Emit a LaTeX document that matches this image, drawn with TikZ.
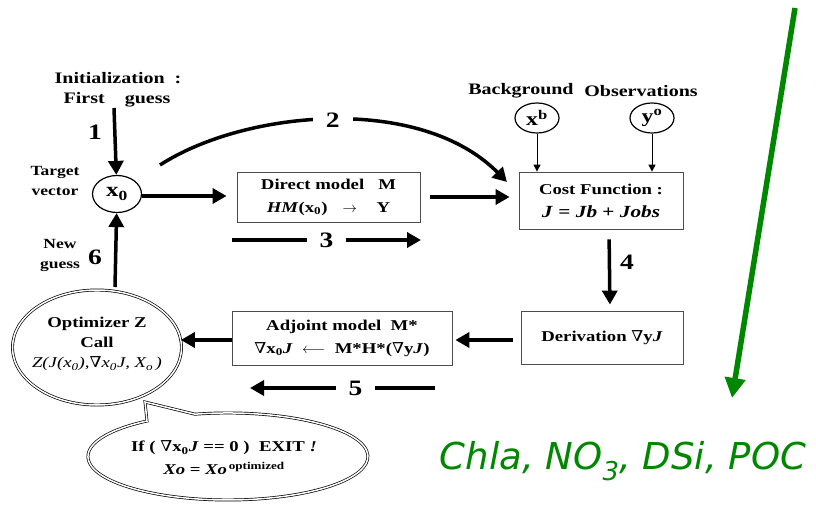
\documentclass[tikz,border=0pt]{standalone}
\usepackage{fontspec}
\setmainfont{Liberation Serif}[FakeStretch=1.25]
\newfontfamily\nabfont{DejaVu Serif}[FakeStretch=1.15]
\newfontfamily\chemfont{DejaVu Sans}
\usetikzlibrary{arrows.meta,shapes.geometric,calc}

\definecolor{chemgreen}{RGB}{0,135,0}
\newcommand{\nab}{{\nabfont\mdseries ∇}}

\tikzset{
  big/.style={line width=3.5pt, -{Triangle[length=14pt,width=15pt]}},
  thinarrow/.style={line width=1pt, -{Triangle[length=7pt,width=7pt]}},
  box/.style={draw=black!70, line width=0.8pt, align=center,
    font=\bfseries\fontsize{15}{23}\selectfont},
  ell/.style={ellipse, draw, line width=1.2pt, inner sep=0pt},
  lbl/.style={font=\bfseries\fontsize{16}{18}\selectfont, align=center},
  side/.style={font=\bfseries\fontsize{14}{20}\selectfont, align=center},
  num/.style={font=\bfseries\fontsize{22}{24}\selectfont},
  gap/.style={num, fill=white, inner xsep=13pt},
}

\begin{document}
\begin{tikzpicture}[x=1pt,y=-1pt]
\useasboundingbox (0,0) rectangle (816,505);

% Initial guess and target vector
\node[lbl] (init) at (118,78) {Initialization\ \ :};
\node[lbl] (first) at (117,100) {First\hspace{20pt}guess};
\node[ell, minimum width=49pt, minimum height=37pt,
  font=\bfseries\fontsize{20}{22}\selectfont] (x0) at (117,194) {x\textsubscript{0}};
\node[side] (target) at (55,181) {Target\\vector};
\node[side] (newg) at (60,255) {New\\guess};
\node[num] (n1) at (95,132) {1};
\node[num] (n6) at (95,257) {6};
\coordinate (start) at (114,108);
\coordinate (back) at (115,287);
\draw[big] (start) -- (x0);
\draw[big] (back) -- (x0);

% Direct model
\node[box, minimum width=183pt, minimum height=50pt] (direct) at (328.5,197)
  {Direct model\ \ \ M\\ \textit{HM}(x\textsubscript{0})\quad$\rightarrow$\quad\ Y};
\draw[big, shorten >=10pt] (x0.east |- 0,196) -- (direct.west |- 0,196);

% Cost function
\node[box, minimum width=164pt, minimum height=57pt] (cost) at (601,200.5)
  {Cost Function :\\ {\fontsize{17}{20}\selectfont\textit{J} = \textit{Jb} + \textit{Jobs}}};
\draw[big, shorten <=10pt, shorten >=9pt] (direct.east |- 0,197) -- (cost.west |- 0,197);

% Background and observations
\node[lbl] (bgl) at (521,91) {Background};
\node[lbl] (obsl) at (641,91) {Observations};
\node[ell, minimum width=44pt, minimum height=30pt,
  font=\bfseries\fontsize{19}{21}\selectfont] (xb) at (537,118) {x\textsuperscript{b}};
\node[ell, minimum width=44pt, minimum height=30pt,
  font=\bfseries\fontsize{19}{21}\selectfont] (yo) at (652,118) {y\textsuperscript{o}};
\draw[thinarrow] (xb) -- (xb |- cost.north);
\draw[thinarrow] (yo) -- (yo |- cost.north);

% Step 2
\coordinate (c2s) at (160,165);
\coordinate (c2e) at (507,182);
\draw[big] (c2s) .. controls (245,110) and (420,94) .. node[gap, pos=0.5] (n2) {2} (c2e);

% Step 3
\coordinate (a3s) at (232,240);
\coordinate (a3e) at (421,240);
\draw[big] (a3s) -- node[gap] (n3) {3} (a3e);

% Derivation
\node[box, minimum width=162pt, minimum height=53pt] (deriv) at (602,337.5)
  {Derivation \nab y\textit{J}};
\draw[big, shorten <=10pt, shorten >=6pt] ([xshift=8pt]cost.south) -- ([xshift=8pt]deriv.north);
\node[num] (n4) at (627,262) {4};

% Adjoint model
\node[box, minimum width=220pt, minimum height=54pt] (adj) at (342,338)
  {Adjoint model\ \ M*\\ \nab x\textsubscript{0}\textit{J}\ \ $\longleftarrow$\ \ M*H*(\nab y\textit{J})};
\draw[big, shorten <=8pt, shorten >=3pt] (deriv.west |- 0,340) -- (adj.east |- 0,340);

% Step 5
\coordinate (a5s) at (435,388);
\coordinate (a5e) at (250,388);
\draw[big] (a5s) -- node[gap, pos=0.43] (n5) {5} (a5e);

% Optimizer
\node[ell, double, double distance=1.5pt, line width=0.7pt,
  minimum width=169pt, minimum height=115pt,
  font=\bfseries\fontsize{15}{20}\selectfont] (opt) at (97,347.5)
  {\makebox[0pt]{\smash{\begin{tabular}{@{}c@{}}Optimizer Z\\ Call\\
   {\mdseries\itshape Z(J(x\textsubscript{0}),\nab x\textsubscript{0}J, X\textsubscript{o}\,)}\end{tabular}}}};
\draw[big, shorten >=-1pt] (adj.west |- 0,340) -- (opt.east |- 0,340);

% Exit bubble
\draw[double, double distance=1.5pt, line width=0.7pt]
  (147,421) -- (145,402) -- (195,414.2)
  arc[start angle=256.4, end angle=594.65, x radius=140, y radius=43.5] -- cycle;
\node[box, draw=none] (exit) at (224,458)
  {If ( \nab x\textsubscript{0}\textit{J} == 0 )\ \ EXIT \textit{!}\\
   \textit{Xo} = \textit{Xo}\textsuperscript{\,optimized}};

% Green arrow and species
\coordinate (gtop) at (795,8);
\coordinate (gbot) at (732,398);
\draw[chemgreen, line width=5.5pt, -{Triangle[length=20pt,width=20pt]}] (gtop) -- (gbot);
\node[text=chemgreen, font=\chemfont\itshape\fontsize{37}{40}\selectfont] (species) at (623,461)
  {Chla, NO\textsubscript{3}, DSi, POC};

\end{tikzpicture}
\end{document}
